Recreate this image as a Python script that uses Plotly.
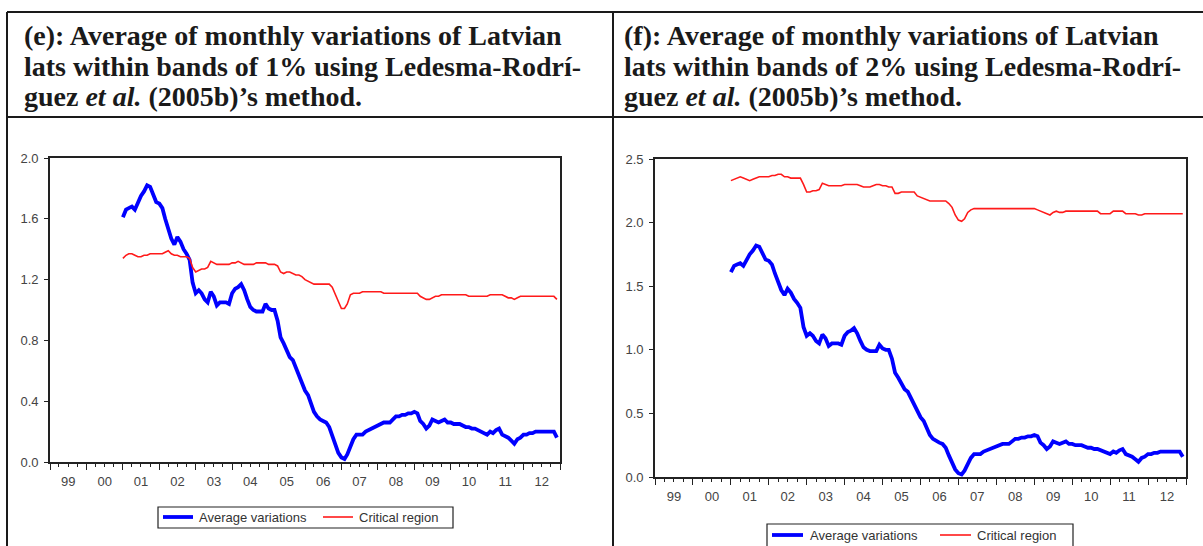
import plotly.graph_objects as go

W, H = 1203, 546

# monthly observations, 2001M01 .. 2012M12
months = [f"{y}-{m:02d}-01" for y in range(2001, 2013) for m in range(1, 13)]

avg_variations = [
    1.61, 1.66, 1.67, 1.68, 1.66, 1.71, 1.75, 1.78, 1.82, 1.81, 1.75, 1.71,  # 2001
    1.70, 1.67, 1.60, 1.53, 1.47, 1.43, 1.48, 1.45, 1.40, 1.37, 1.33, 1.18,  # 2002
    1.11, 1.13, 1.11, 1.07, 1.05, 1.12, 1.09, 1.03, 1.05, 1.05, 1.05, 1.04,  # 2003
    1.11, 1.14, 1.15, 1.17, 1.13, 1.07, 1.02, 1.00, 0.99, 0.99, 0.99, 1.04,  # 2004
    1.01, 1.00, 1.00, 0.93, 0.82, 0.78, 0.73, 0.69, 0.67, 0.62, 0.58, 0.53,  # 2005
    0.47, 0.44, 0.39, 0.33, 0.30, 0.28, 0.27, 0.26, 0.23, 0.17, 0.11, 0.06,  # 2006
    0.03, 0.02, 0.05, 0.10, 0.15, 0.18, 0.18, 0.18, 0.20, 0.21, 0.22, 0.23,  # 2007
    0.24, 0.25, 0.26, 0.26, 0.26, 0.28, 0.30, 0.30, 0.31, 0.31, 0.32, 0.32,  # 2008
    0.33, 0.32, 0.27, 0.25, 0.22, 0.24, 0.28, 0.27, 0.26, 0.27, 0.28, 0.26,  # 2009
    0.26, 0.25, 0.25, 0.25, 0.24, 0.23, 0.23, 0.22, 0.22, 0.21, 0.20, 0.19,  # 2010
    0.18, 0.20, 0.19, 0.21, 0.22, 0.18, 0.17, 0.16, 0.14, 0.12, 0.15, 0.16,  # 2011
    0.18, 0.18, 0.19, 0.19, 0.20, 0.20, 0.20, 0.20, 0.20, 0.20, 0.20, 0.16,  # 2012
]

critical_1pct = [
    1.34, 1.36, 1.37, 1.37, 1.36, 1.35, 1.35, 1.36, 1.36, 1.37, 1.37, 1.37,  # 2001
    1.37, 1.37, 1.38, 1.39, 1.37, 1.36, 1.36, 1.35, 1.35, 1.35, 1.34, 1.28,  # 2002
    1.25, 1.26, 1.27, 1.27, 1.28, 1.32, 1.31, 1.30, 1.30, 1.30, 1.30, 1.30,  # 2003
    1.31, 1.31, 1.32, 1.31, 1.30, 1.30, 1.30, 1.30, 1.31, 1.31, 1.31, 1.31,  # 2004
    1.30, 1.30, 1.30, 1.29, 1.25, 1.24, 1.25, 1.25, 1.24, 1.23, 1.23, 1.22,  # 2005
    1.20, 1.19, 1.18, 1.17, 1.17, 1.17, 1.17, 1.17, 1.17, 1.15, 1.10, 1.05,  # 2006
    1.01, 1.01, 1.04, 1.10, 1.11, 1.11, 1.11, 1.12, 1.12, 1.12, 1.12, 1.12,  # 2007
    1.12, 1.12, 1.11, 1.11, 1.11, 1.11, 1.11, 1.11, 1.11, 1.11, 1.11, 1.11,  # 2008
    1.11, 1.11, 1.09, 1.08, 1.07, 1.07, 1.08, 1.09, 1.09, 1.10, 1.10, 1.10,  # 2009
    1.10, 1.10, 1.10, 1.10, 1.10, 1.10, 1.09, 1.09, 1.09, 1.09, 1.09, 1.09,  # 2010
    1.09, 1.10, 1.10, 1.10, 1.10, 1.10, 1.09, 1.08, 1.08, 1.07, 1.08, 1.09,  # 2011
    1.09, 1.09, 1.09, 1.09, 1.09, 1.09, 1.09, 1.09, 1.09, 1.09, 1.09, 1.07,  # 2012
]

critical_2pct = [
    2.33, 2.34, 2.35, 2.36, 2.35, 2.34, 2.33, 2.34, 2.35, 2.36, 2.36, 2.36,  # 2001
    2.36, 2.37, 2.37, 2.38, 2.38, 2.36, 2.36, 2.35, 2.35, 2.35, 2.35, 2.30,  # 2002
    2.24, 2.24, 2.25, 2.25, 2.26, 2.31, 2.30, 2.29, 2.29, 2.29, 2.29, 2.29,  # 2003
    2.30, 2.30, 2.30, 2.30, 2.30, 2.29, 2.28, 2.28, 2.28, 2.29, 2.30, 2.30,  # 2004
    2.29, 2.29, 2.28, 2.28, 2.23, 2.23, 2.24, 2.24, 2.24, 2.24, 2.24, 2.21,  # 2005
    2.20, 2.19, 2.18, 2.17, 2.17, 2.17, 2.17, 2.17, 2.17, 2.15, 2.12, 2.06,  # 2006
    2.02, 2.01, 2.03, 2.08, 2.10, 2.11, 2.11, 2.11, 2.11, 2.11, 2.11, 2.11,  # 2007
    2.11, 2.11, 2.11, 2.11, 2.11, 2.11, 2.11, 2.11, 2.11, 2.11, 2.11, 2.11,  # 2008
    2.11, 2.10, 2.09, 2.08, 2.07, 2.06, 2.08, 2.09, 2.08, 2.08, 2.09, 2.09,  # 2009
    2.09, 2.09, 2.09, 2.09, 2.09, 2.09, 2.09, 2.09, 2.09, 2.07, 2.07, 2.07,  # 2010
    2.07, 2.09, 2.09, 2.09, 2.09, 2.07, 2.07, 2.07, 2.07, 2.06, 2.06, 2.07,  # 2011
    2.07, 2.07, 2.07, 2.07, 2.07, 2.07, 2.07, 2.07, 2.07, 2.07, 2.07, 2.07,  # 2012
]

title_e = [
    "(e): Average of monthly variations of Latvian",
    "lats within bands of 1% using Ledesma-Rodrí-",
    "guez <i>et al.</i> (2005b)’s method.",
]
title_f = [
    "(f): Average of monthly variations of Latvian",
    "lats within bands of 2% using Ledesma-Rodrí-",
    "guez <i>et al.</i> (2005b)’s method.",
]

y_ticks_e = [0.0, 0.4, 0.8, 1.2, 1.6, 2.0]
y_ticks_f = [0.0, 0.5, 1.0, 1.5, 2.0, 2.5]

legend_names = ["Average variations", "Critical region"]
BLUE = "#0000ff"
RED = "#ff1a1a"


def px_x(p):
    return p / W


def px_y(p):
    return 1 - p / H


TICK_FONT = dict(family="Liberation Sans, Arial", size=13, color="#444")
AXIS_COLOR = "#222"


def date_axis(domain):
    return dict(domain=domain, type="date", range=["1999-01-01", "2013-01-01"],
                tick0="1999-01-01", dtick="M12", tickformat="%y", ticklabelmode="period",
                ticks="outside", ticklen=6, tickwidth=1.2, tickcolor=AXIS_COLOR,
                minor=dict(dtick="M3", ticks="outside", ticklen=3, tickcolor=AXIS_COLOR),
                showline=True, mirror=True, linecolor=AXIS_COLOR, linewidth=1.8,
                showgrid=False, zeroline=False, tickfont=TICK_FONT, fixedrange=True,
                automargin=False)


def value_axis(domain, ticks, top):
    return dict(domain=domain, range=[0, top], tickvals=ticks,
                ticktext=[f"{t:.1f}" for t in ticks],
                ticks="outside", ticklen=4, tickwidth=1.2, tickcolor=AXIS_COLOR,
                ticklabelstandoff=3,
                showline=True, mirror=True, linecolor=AXIS_COLOR, linewidth=1.8,
                showgrid=False, zeroline=False, tickfont=TICK_FONT, fixedrange=True,
                automargin=False)


fig = go.Figure()

# panel (e)
fig.add_trace(go.Scatter(x=months, y=avg_variations, mode="lines", name=legend_names[0],
                         line=dict(color=BLUE, width=3.8), xaxis="x", yaxis="y"))
fig.add_trace(go.Scatter(x=months, y=critical_1pct, mode="lines", name=legend_names[1],
                         line=dict(color=RED, width=1.6), xaxis="x", yaxis="y"))
# panel (f)
fig.add_trace(go.Scatter(x=months, y=avg_variations, mode="lines", name=legend_names[0],
                         line=dict(color=BLUE, width=3.8), xaxis="x2", yaxis="y2"))
fig.add_trace(go.Scatter(x=months, y=critical_2pct, mode="lines", name=legend_names[1],
                         line=dict(color=RED, width=1.6), xaxis="x2", yaxis="y2"))

fig.update_layout(
    width=W, height=H, autosize=False,
    margin=dict(l=0, r=0, t=0, b=0, pad=0, autoexpand=False),
    paper_bgcolor="white", plot_bgcolor="white",
    showlegend=False,
    xaxis=date_axis([px_x(50), px_x(560)]),
    yaxis=value_axis([px_y(462), px_y(158)], y_ticks_e, 2.0),
    xaxis2=date_axis([px_x(655), px_x(1186)]),
    yaxis2=value_axis([px_y(477), px_y(159)], y_ticks_f, 2.5),
)
fig.update_layout(xaxis2=dict(anchor="y2"), yaxis2=dict(anchor="x2"))

# table frame
table_lines = [
    (7, 12, W, 12),      # top border
    (7, 117, W, 117),    # below titles
    (7, 12, 7, H),       # left border
    (613, 12, 613, H),   # middle divider
]
for x0, y0, x1, y1 in table_lines:
    fig.add_shape(type="line", xref="paper", yref="paper",
                  x0=px_x(x0), y0=px_y(y0), x1=px_x(x1), y1=px_y(y1),
                  line=dict(color="#1a1a1a", width=2))

# cell titles
for left, lines in ((22, title_e), (622, title_f)):
    for k, txt in enumerate(lines):
        fig.add_annotation(text=f"<b>{txt}</b>", xref="paper", yref="paper",
                           x=px_x(left), y=px_y(36 + 30 * k), xanchor="left", yanchor="middle",
                           showarrow=False,
                           font=dict(family="Liberation Serif, serif", size=28, color="#1a1a1a"))

# EViews-style legend boxes under each chart
# (box x0, x1, y0, y1, sample starts, sample length, text starts, sample y)
legend_boxes = [
    (158, 453, 507, 528, (163, 323), 30, (197, 357), 517),
    (767, 1073, 524, 548, (772, 940), 31, (808, 975), 535),
]
for bx0, bx1, by0, by1, starts, length, texts, ly in legend_boxes:
    fig.add_shape(type="rect", xref="paper", yref="paper",
                  x0=px_x(bx0), x1=px_x(bx1), y0=px_y(by1), y1=px_y(by0),
                  line=dict(color="#222", width=1.2), fillcolor="white")
    for s, t, name, color, lw in zip(starts, texts, legend_names, (BLUE, RED), (3.8, 1.6)):
        fig.add_shape(type="line", xref="paper", yref="paper",
                      x0=px_x(s), x1=px_x(s + length), y0=px_y(ly), y1=px_y(ly),
                      line=dict(color=color, width=lw))
        fig.add_annotation(text=name, xref="paper", yref="paper",
                           x=px_x(t), y=px_y(ly), xanchor="left", yanchor="middle",
                           showarrow=False,
                           font=dict(family="Liberation Sans, Arial", size=13, color="#333"))

# the page body has a default 8px margin; drop it so the figure sits at the window origin
fig.write_html("out.html", config={"displayModeBar": False},
               post_script="document.body.style.margin='0';"
                           "document.documentElement.style.overflow='hidden';")
